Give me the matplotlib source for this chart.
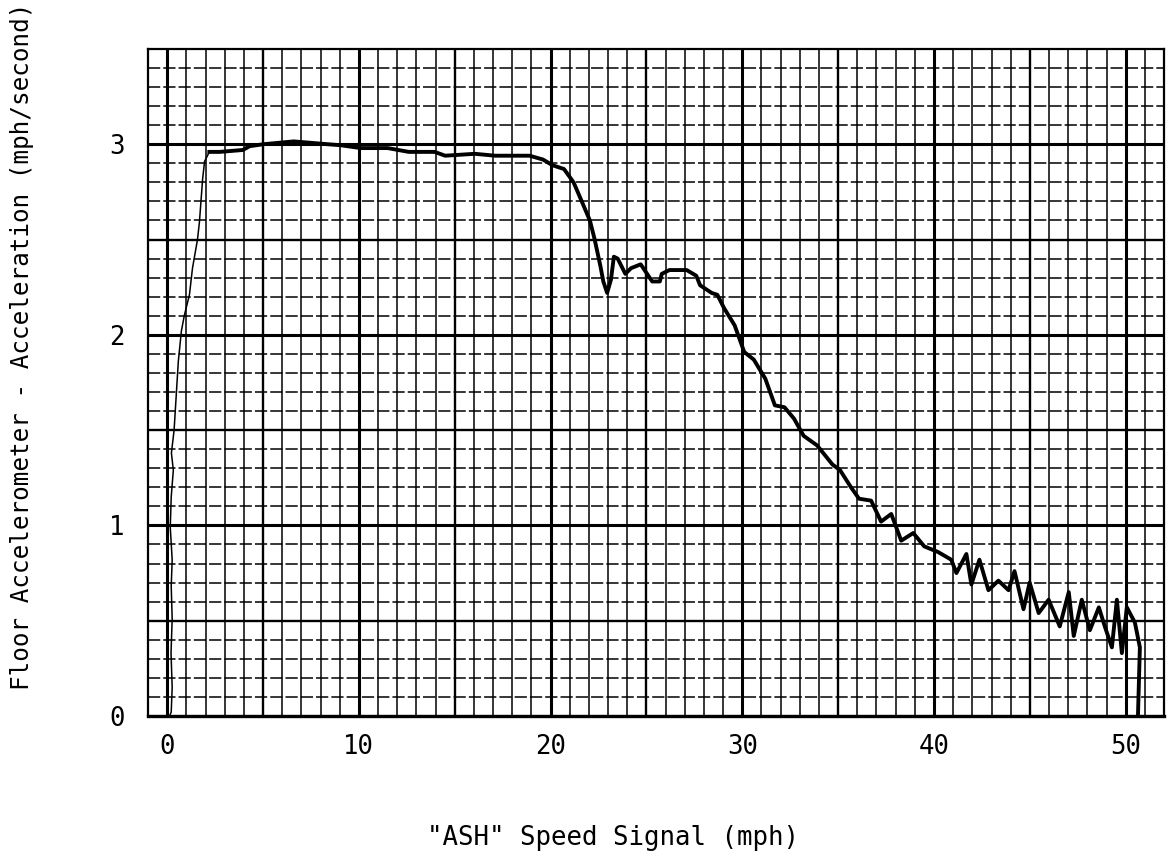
import numpy as np
import matplotlib.pyplot as plt

# initial rise off the stop (thin pen)
rise_x = [0.0, 0.12, 0.21, 0.26, 0.20, 0.26, 0.21, 0.26, 0.16, 0.21, 0.32, 0.22,
          0.36, 0.47, 0.58, 0.74, 0.89, 1.16, 1.32, 1.58, 1.68, 1.85, 1.95, 2.2]
rise_y = [0.0, 0.0, 0.02, 0.15, 0.33, 0.51, 0.68, 0.82, 0.99, 1.15, 1.29, 1.38,
          1.50, 1.68, 1.86, 2.02, 2.10, 2.21, 2.35, 2.50, 2.59, 2.82, 2.91, 2.96]

# acceleration trace vs speed signal
speed = [2.2, 2.74, 3.95, 4.3, 5.0, 6.6, 8.4, 9.05, 10.1, 11.5, 12.6, 13.95, 14.5,
         16.05, 17.1, 18.9, 19.6, 20.1, 20.7, 21.2, 21.5, 22.05, 22.3, 22.6, 22.75,
         22.95, 23.15, 23.3, 23.5, 23.9, 24.2, 24.7, 25.3, 25.7, 25.8, 26.2, 27.1,
         27.6, 27.8, 28.4, 28.7, 29.05, 29.6, 30.1, 30.6, 31.2, 31.7, 32.2, 32.7,
         33.2, 33.9, 34.3, 34.7, 35.1, 35.67, 36.09, 36.72, 37.24, 37.77, 38.29,
         38.92, 39.49, 40.22, 40.9, 41.17, 41.69, 41.95, 42.37, 42.84, 43.36, 43.89,
         44.2, 44.67, 44.99, 45.46, 45.98, 46.56, 47.03, 47.29, 47.71, 48.13, 48.6,
         48.91, 49.28, 49.54, 49.8, 50.06, 50.48, 50.74, 50.64]
accel = [2.96, 2.96, 2.97, 2.99, 3.0, 3.015, 3.0, 2.995, 2.98, 2.98, 2.96, 2.96, 2.94,
         2.95, 2.94, 2.94, 2.92, 2.89, 2.87, 2.8, 2.73, 2.6, 2.5, 2.36, 2.28,
         2.22, 2.29, 2.41, 2.4, 2.32, 2.35, 2.37, 2.28, 2.28, 2.32, 2.34, 2.34,
         2.31, 2.26, 2.22, 2.21, 2.14, 2.05, 1.91, 1.87, 1.77, 1.63, 1.62, 1.56,
         1.47, 1.42, 1.37, 1.32, 1.29, 1.2, 1.14, 1.13, 1.02, 1.06, 0.92,
         0.96, 0.89, 0.86, 0.82, 0.75, 0.85, 0.69, 0.82, 0.66, 0.71, 0.66,
         0.76, 0.56, 0.70, 0.54, 0.61, 0.47, 0.65, 0.42, 0.61, 0.45, 0.57,
         0.47, 0.36, 0.61, 0.33, 0.57, 0.49, 0.36, 0.0]

x_ticks = [0, 10, 20, 30, 40, 50]
y_ticks = [0, 1, 2, 3]

font = 'DejaVu Sans Mono'

fig = plt.figure(figsize=(11.72, 8.67), dpi=100)
ax = fig.add_axes([0.1263, 0.1742, 0.8669, 0.7693])
ax.set_xlim(-1, 52)
ax.set_ylim(0, 3.5)

# graph paper: 1 mph x 0.1 squares, heavier every 5 and 10
ax.set_xticks(x_ticks)
ax.set_yticks(y_ticks)
ax.set_xticks(np.arange(-1, 53, 1), minor=True)
ax.set_yticks(np.arange(0, 3.51, 0.1), minor=True)
ax.grid(which='major', color='black', lw=2.2)
ax.grid(which='minor', axis='x', color='black', lw=1.1)
ax.grid(which='minor', axis='y', color='black', lw=1.1, linestyle=(0, (8, 2)))
for v in np.arange(5, 52, 10):
    ax.axvline(v, color='black', lw=1.7)
for v in np.arange(0.5, 3.5, 1.0):
    ax.axhline(v, color='black', lw=1.7)
ax.set_axisbelow(True)

for side in ['left', 'top', 'right']:
    ax.spines[side].set_linewidth(1.6)
ax.spines['bottom'].set_linewidth(2.4)

ax.tick_params(which='both', length=0)
ax.tick_params(axis='x', pad=13, labelsize=18.5)
ax.tick_params(axis='y', pad=17, labelsize=18.5)
for lab in ax.get_xticklabels() + ax.get_yticklabels():
    lab.set_family(font)

ax.plot(rise_x, rise_y, color='black', lw=1.1)
ax.plot(speed, accel, color='black', lw=2.8, solid_joinstyle='round')

fig.text(0.523, 0.033, '"ASH" Speed Signal (mph)', ha='center', va='center',
         fontsize=18.5, family=font)
fig.text(0.019, 0.60, 'Floor Accelerometer - Acceleration (mph/second)',
         rotation=90, ha='center', va='center', fontsize=17.5, family=font)

fig.savefig('out.png', dpi=100)
